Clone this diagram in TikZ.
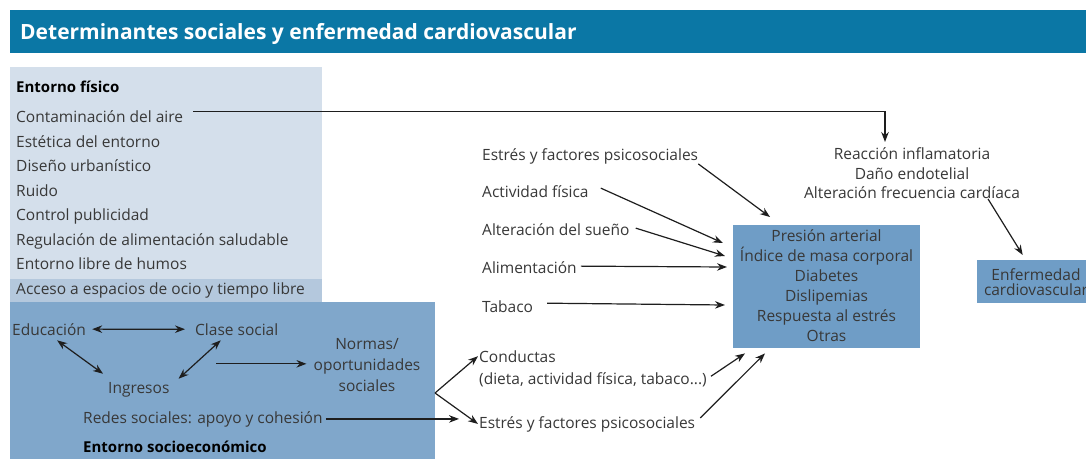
\documentclass[tikz,border=0pt]{standalone}
\usepackage{fontspec}
\setmainfont{Open Sans}
\usetikzlibrary{arrows.meta,calc}
\definecolor{titlebar}{HTML}{0B77A5}
\definecolor{lightbox}{HTML}{D4DFEB}
\definecolor{band}{HTML}{B4C8DD}
\definecolor{sociobox}{HTML}{80A7CB}
\definecolor{riskbox}{HTML}{6F9DC6}
\definecolor{txt}{HTML}{383838}
\definecolor{arrowc}{HTML}{1E1E1E}
\begin{document}
\begin{tikzpicture}[x=1pt,y=-1pt,
  lbl/.style={anchor=base west, inner sep=0pt, font=\fontsize{15.5}{18}\selectfont, text=txt},
  hd/.style={anchor=base west, inner sep=0pt, font=\fontsize{15}{18}\selectfont\bfseries, text=black},
  ctr/.style={align=center, inner sep=0pt, font=\fontsize{15.5}{20}\selectfont, text=txt},
  arr/.style={-{Stealth[length=10pt,width=7.5pt]}, line width=1.2pt, draw=arrowc},
  darr/.style={{Stealth[length=10pt,width=7.5pt]}-{Stealth[length=10pt,width=7.5pt]}, line width=1.2pt, draw=arrowc}]
\useasboundingbox (0,0) rectangle (1086,458);
\fill[white] (0,0) rectangle (1086,458);
% title
\fill[titlebar] (10,10) rectangle (1090,53);
\node[anchor=base west, inner sep=0pt, text=white, font=\fontsize{21}{24}\selectfont\bfseries] (title) at (20,39) {Determinantes sociales y enfermedad cardiovascular};
% boxes
\fill[lightbox] (10,67) rectangle (322,279);
\fill[band] (10,279) rectangle (322,302);
\fill[sociobox] (10,302) rectangle (435,462);
% entorno fisico
\node[hd] (ef) at (16,92) {Entorno físico};
\node[lbl] (cont) at (16,122) {Contaminación del aire};
\node[lbl] (est) at (16,147) {Estética del entorno};
\node[lbl] (dis) at (16,171) {Diseño urbanístico};
\node[lbl] (rui) at (16,196) {Ruido};
\node[lbl] (ctl) at (16,220) {Control publicidad};
\node[lbl] (reg) at (16,245) {Regulación de alimentación saludable};
\node[lbl] (lib) at (16,269) {Entorno libre de humos};
\node[lbl] (acc) at (16,294) {Acceso a espacios de ocio y tiempo libre};
% socioeconomico
\node[lbl] (educ) at (12,335) {Educación};
\node[lbl] (clase) at (195,335) {Clase social};
\node[lbl] (ingr) at (108,393) {Ingresos};
\node[ctr, anchor=north, font=\fontsize{15.5}{21}\selectfont] (normas) at (367,338) {Normas/\\oportunidades\\sociales};
\node[lbl] (redes) at (83,423) {Redes sociales: apoyo y cohesión};
\node[hd] (es) at (83,452) {Entorno socioeconómico};
% middle column
\node[lbl] (estres) at (482,160) {Estrés y factores psicosociales};
\node[lbl] (act) at (482,197) {Actividad física};
\node[lbl] (sue) at (482,235) {Alteración del sueño};
\node[lbl] (ali) at (482,273) {Alimentación};
\node[lbl] (tab) at (482,312) {Tabaco};
\node[lbl] (cond) at (479,362) {Conductas};
\node[lbl] (diet) at (479,384) {(dieta, actividad física, tabaco...)};
\node[lbl] (estres2) at (479,428) {Estrés y factores psicosociales};
% risk box
\node[fill=riskbox, minimum width=187pt, minimum height=123pt, inner sep=0pt, anchor=north west] (risk) at (733,225) {};
\node[ctr, anchor=north] (risktxt) at (826.5,229.5) {Presión arterial\\Índice de masa corporal\\Diabetes\\Dislipemias\\Respuesta al estrés\\Otras};
% reaction text
\node[ctr, anchor=north, font=\fontsize{15.5}{19.5}\selectfont] (reac) at (912,147.5) {Reacción inflamatoria\\Daño endotelial\\Alteración frecuencia cardíaca};
% enfermedad
\node[fill=riskbox, minimum width=115pt, minimum height=43pt, inner sep=0pt, anchor=north west] (enf) at (977,260) {};
\node[ctr, font=\fontsize{15.5}{15}\selectfont, anchor=center] (enftxt) at (1036,282) {Enfermedad\\cardiovascular};
% connectors
\coordinate (reacin) at (885,142);
\draw[arr] ($(cont.east)+(10,-5)$) -| (reacin);
\draw[arr] ($(reac.south)+(76,0)$) -- ($(enf.north)+(-12,-5)$);
\draw[arr] (estres.south east) -- ($(risk.north west)+(37,-8)$);
\draw[arr] ($(act.east)+(12,-3)$) -- ($(risk.north west)+(-10,18)$);
\draw[arr] ($(sue.east)+(6,-1)$) -- ($(risk.north west)+(-8,31)$);
\draw[arr] ($(ali.east)+(4,-1)$) -- ($(risk.north west)+(-6,42)$);
\draw[arr] ($(tab.east)+(14,-3)$) -- ($(risk.north west)+(-8,80)$);
\draw[arr] ($(diet.east)+(4,-3)$) -- ($(risk.south west)+(12,5)$);
\draw[arr] ($(estres2.east)+(5,-6)$) -- ($(risk.south west)+(32,5)$);
% socio arrows
\draw[darr] ($(educ.east)+(6,0)$) -- ($(clase.west)+(-10,0)$);
\draw[darr] ($(educ.south)+(8,5)$) -- ($(ingr.north west)+(-5,-8)$);
\draw[darr] ($(clase.south)+(-16,5)$) -- ($(ingr.north east)+(9,-3)$);
\draw[arr] ($(normas.west)+(-97,-1)$) -- ($(normas.west)+(-7,-1)$);
\draw[arr] ($(redes.east)+(3,0)$) -- ($(estres2.west)+(-20,-5)$);
\coordinate (fork) at (435,393);
\draw[arr] (fork) -- ($(cond.west)+(-1,0)$);
\draw[arr] (fork) -- ($(estres2.west)+(-1,0)$);
\end{tikzpicture}
\end{document}
